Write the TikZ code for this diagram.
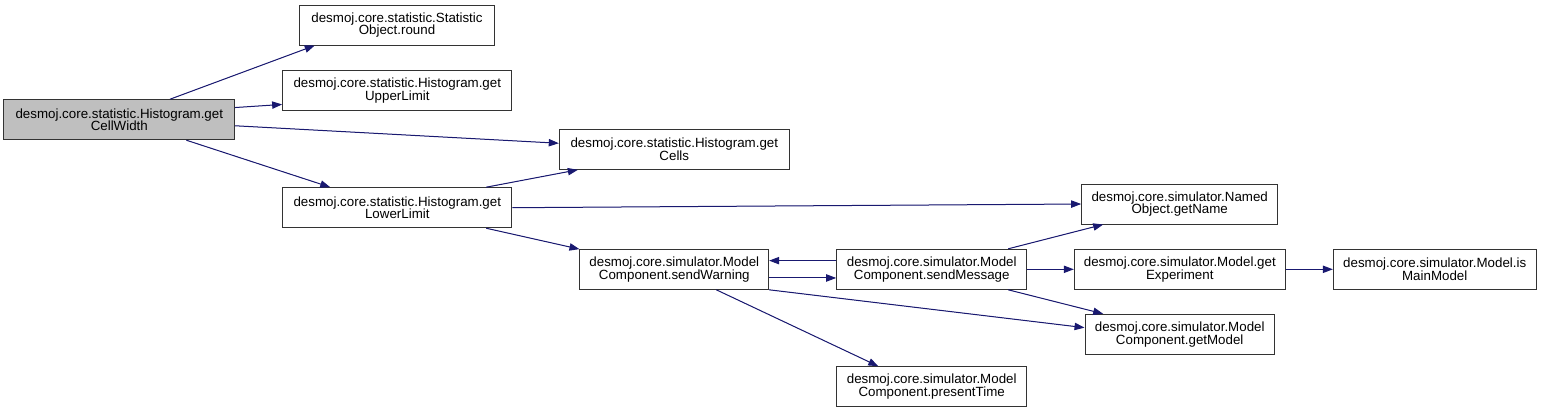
\documentclass[tikz,border=0pt]{standalone}
\usepackage{fontspec}
\setmainfont{Liberation Sans}
\usetikzlibrary{arrows.meta}
\definecolor{edgeblue}{RGB}{25,25,112}

\begin{document}
\begin{tikzpicture}[x=0.75pt, y=-0.75pt, >={Triangle[length=7.5pt,width=5.5pt]}]
    \tikzset{
      fnbox/.style={draw=black!80, fill=white, line width=0.75pt, align=center, minimum height=30pt, inner sep=1pt, font=\fontsize{10}{9.5}\selectfont},
      call/.style={->, draw=edgeblue, fill=edgeblue, line width=0.75pt}
    }
    \useasboundingbox (0,0) rectangle (1541,412);

    \node[fnbox, fill=black!25, minimum width=173pt] (cellwidth) at (119.3,119.7) {desmoj.core.statistic.Histogram.get\\CellWidth};
    \node[fnbox, minimum width=146.5pt] (round) at (397,25) {desmoj.core.statistic.Statistic\\Object.round};
    \node[fnbox, minimum width=172pt] (upper) at (397.3,90.3) {desmoj.core.statistic.Histogram.get\\UpperLimit};
    \node[fnbox, minimum width=172.5pt] (cells) at (674.3,149.3) {desmoj.core.statistic.Histogram.get\\Cells};
    \node[fnbox, minimum width=172pt] (lower) at (397.3,207.7) {desmoj.core.statistic.Histogram.get\\LowerLimit};
    \node[fnbox, minimum width=141.5pt] (warning) at (674.3,269.3) {desmoj.core.simulator.Model\\Component.sendWarning};
    \node[fnbox, minimum width=142.5pt] (message) at (931.7,269.3) {desmoj.core.simulator.Model\\Component.sendMessage};
    \node[fnbox, minimum width=142.5pt] (presenttime) at (931.7,386.7) {desmoj.core.simulator.Model\\Component.presentTime};
    \node[fnbox, minimum width=147pt] (getname) at (1179.7,204) {desmoj.core.simulator.Named\\Object.getName};
    \node[fnbox, minimum width=158.25pt] (experiment) at (1179.8,269.3) {desmoj.core.simulator.Model.get\\Experiment};
    \node[fnbox, minimum width=152pt] (mainmodel) at (1434.7,269.3) {desmoj.core.simulator.Model.is\\MainModel};
    \node[fnbox, minimum width=142pt] (getmodel) at (1179.7,334.3) {desmoj.core.simulator.Model\\Component.getModel};

    \draw[call] (cellwidth.22) -- (round.194);
    \draw[call] (cellwidth.6) -- (upper.187);
    \draw[call] (cellwidth.357) -- (cells.177);
    \draw[call] (cellwidth.343) -- (lower.163);
    \draw[call] (lower.13) -- (cells.192);
    \draw[call] (lower.east) -- (getname.west);
    \draw[call] (lower.347) -- (warning.168);
    \draw[call] ([yshift=-6.5pt]warning.east) -- ([yshift=-6.5pt]message.west);
    \draw[call] ([yshift=6.5pt]message.west) -- ([yshift=6.5pt]warning.east);
    \draw[call] (warning.south east) -- (getmodel.176);
    \draw[call] (warning.334) -- (presenttime.159);
    \draw[call] (message.15) -- (getname.195);
    \draw[call] (message.east) -- (experiment.west);
    \draw[call] (message.345) -- (getmodel.165);
    \draw[call] (experiment.east) -- (mainmodel.west);
\end{tikzpicture}
\end{document}
